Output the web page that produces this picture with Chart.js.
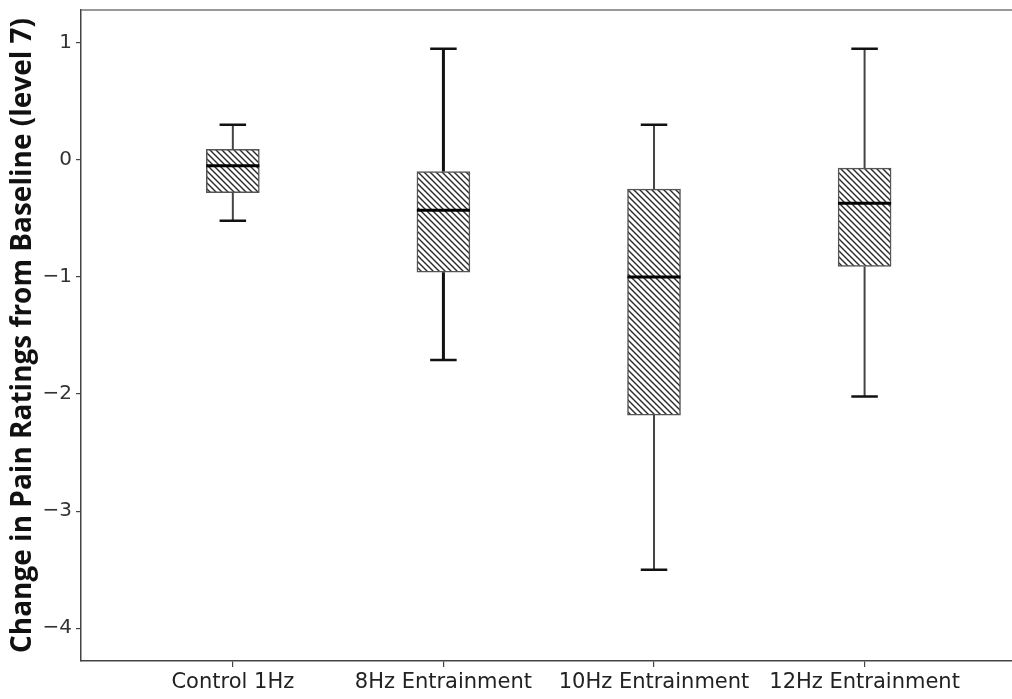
<!DOCTYPE html>
<html>
<head>
<meta charset="utf-8">
<title>Change in Pain Ratings</title>
<script src="https://cdn.jsdelivr.net/npm/chart.js@4.4.1/dist/chart.umd.min.js"></script>
<style>
    body { margin: 0; background: #fff; }
    #wrap { width: 1012px; height: 699px; }
</style>
</head>
<body>
<div id="wrap"><canvas id="boxChart" width="1012" height="699"></canvas></div>
<script>
// Data
const categories = ['Control 1Hz', '8Hz Entrainment', '10Hz Entrainment', '12Hz Entrainment'];
const whiskerLow = [-0.52, -1.71, -3.50, -2.02];
const q1 = [-0.28, -0.96, -2.18, -0.91];
const median = [-0.05, -0.43, -1.00, -0.37];
const q3 = [0.09, -0.10, -0.25, -0.07];
const whiskerHigh = [0.30, 0.95, 0.30, 0.95];
const yTicks = [-4, -3, -2, -1, 0, 1];

// whisker line weight per box (the 8Hz one is drawn heavier)
const whiskerWeight = [2, 3, 2, 2];

function hatchPattern() {
    const s = 6;
    const c = document.createElement('canvas');
    c.width = s;
    c.height = s;
    const g = c.getContext('2d');
    g.fillStyle = '#fff';
    g.fillRect(0, 0, s, s);
    g.strokeStyle = '#2a2a2a';
    g.lineWidth = 1.4;
    g.beginPath();
    g.moveTo(-1, -1); g.lineTo(s + 1, s + 1);
    g.moveTo(s - 1, -1); g.lineTo(s + 1, 1);
    g.moveTo(-1, s - 1); g.lineTo(1, s + 1);
    g.stroke();
    return document.getElementById('boxChart').getContext('2d').createPattern(c, 'repeat');
}

const whiskerPlugin = {
    id: 'whiskers',
    afterDatasetsDraw(chart) {
        const ctx = chart.ctx;
        const y = chart.scales.y;
        const bars = chart.getDatasetMeta(0).data;
        ctx.save();
        bars.forEach((bar, i) => {
            const cx = bar.x;
            const half = bar.width / 2;
            const cap = bar.width / 4;
            const yHi = y.getPixelForValue(whiskerHigh[i]);
            const yLo = y.getPixelForValue(whiskerLow[i]);
            const yQ3 = y.getPixelForValue(q3[i]);
            const yQ1 = y.getPixelForValue(q1[i]);
            const yMed = y.getPixelForValue(median[i]);

            ctx.strokeStyle = whiskerWeight[i] > 2 ? '#111' : '#444';
            ctx.lineWidth = whiskerWeight[i];
            ctx.beginPath();
            ctx.moveTo(cx, yQ3); ctx.lineTo(cx, yHi);
            ctx.moveTo(cx, yQ1); ctx.lineTo(cx, yLo);
            ctx.stroke();

            // caps
            ctx.strokeStyle = '#111';
            ctx.lineWidth = 2.5;
            ctx.beginPath();
            ctx.moveTo(cx - cap, yHi); ctx.lineTo(cx + cap, yHi);
            ctx.moveTo(cx - cap, yLo); ctx.lineTo(cx + cap, yLo);
            ctx.stroke();

            // median
            ctx.strokeStyle = '#000';
            ctx.lineWidth = 3;
            ctx.beginPath();
            ctx.moveTo(cx - half, yMed); ctx.lineTo(cx + half, yMed);
            ctx.stroke();
        });
        // top frame line
        const a = chart.chartArea;
        ctx.strokeStyle = '#777';
        ctx.lineWidth = 1.5;
        ctx.beginPath();
        ctx.moveTo(a.left, a.top); ctx.lineTo(a.right, a.top);
        ctx.stroke();
        ctx.restore();
    }
};

document.addEventListener('DOMContentLoaded', function() {
    const boxes = categories.map((c, i) => ({ x: i + 1, y: [q1[i], q3[i]] }));

    new Chart(document.getElementById('boxChart'), {
        type: 'bar',
        data: {
            datasets: [{
                data: boxes,
                backgroundColor: hatchPattern(),
                borderColor: '#555',
                borderWidth: 1.5,
                borderSkipped: false,
                barThickness: 53
            }]
        },
        options: {
            responsive: false,
            animation: false,
            devicePixelRatio: 1,
            layout: { padding: { top: 10, right: 0, left: 0, bottom: 0 } },
            plugins: {
                legend: { display: false },
                tooltip: { enabled: false }
            },
            scales: {
                x: {
                    type: 'linear',
                    offset: false,
                    min: 0.279,
                    max: 4.70,
                    afterBuildTicks: function(scale) {
                        scale.ticks = categories.map((c, i) => ({ value: i + 1 }));
                    },
                    afterFit: function(scale) {
                        scale.height = 38;
                        scale.paddingLeft = 0;
                        scale.paddingRight = 0;
                    },
                    grid: { offset: false, drawOnChartArea: false, tickLength: 6, color: '#444', lineWidth: 1.2 },
                    border: { color: '#444', width: 1.5 },
                    ticks: {
                        autoSkip: false,
                        maxRotation: 0,
                        padding: 3,
                        color: '#222',
                        font: { family: '"DejaVu Sans", sans-serif', size: 21 },
                        callback: function(v) { return categories[Math.round(v) - 1] || ''; }
                    }
                },
                y: {
                    min: -4.28,
                    max: 1.28,
                    afterBuildTicks: function(scale) {
                        scale.ticks = yTicks.map(v => ({ value: v }));
                    },
                    afterFit: function(scale) {
                        scale.width = 81;
                        scale.paddingTop = 0;
                        scale.paddingBottom = 0;
                    },
                    grid: { drawOnChartArea: false, tickLength: 5, color: '#444', lineWidth: 1.2 },
                    border: { color: '#444', width: 1.5 },
                    title: {
                        display: true,
                        text: 'Change in Pain Ratings from Baseline (level 7)',
                        color: '#111',
                        padding: { top: 6, bottom: 2 },
                        font: { family: '"Open Sans", "DejaVu Sans", sans-serif', size: 28, weight: 'bold' }
                    },
                    ticks: {
                        padding: 4,
                        color: '#333',
                        font: { family: '"DejaVu Sans", sans-serif', size: 20 },
                        callback: function(v) { return v < 0 ? '\u2212' + Math.abs(v) : String(v); }
                    }
                }
            }
        },
        plugins: [whiskerPlugin]
    });
});
</script>
</body>
</html>
